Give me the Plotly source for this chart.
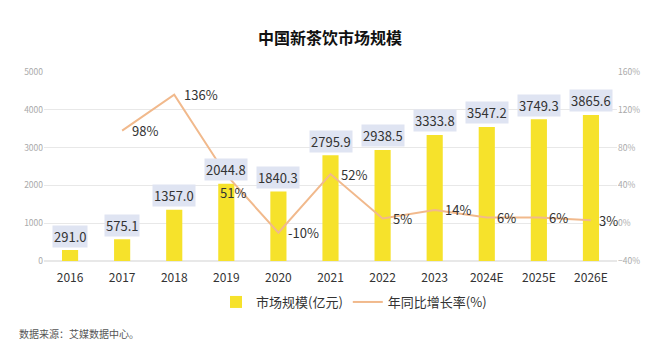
import plotly.graph_objects as go

categories = ["2016", "2017", "2018", "2019", "2020", "2021", "2022", "2023", "2024E", "2025E", "2026E"]
market_size = [291.0, 575.1, 1357.0, 2044.8, 1840.3, 2795.9, 2938.5, 3333.8, 3547.2, 3749.3, 3865.6]
growth_categories = categories[1:]
growth_rate = [98, 136, 51, -10, 52, 5, 14, 6, 6, 3]
growth_labels = ["98%", "136%", "51%", "-10%", "52%", "5%", "14%", "6%", "6%", "3%"]

FONT = "Noto Sans CJK SC"
BAR_COLOR = "#f6e22b"
LINE_COLOR = "#f1b98c"

fig = go.Figure()
fig.add_trace(go.Bar(
    x=categories, y=market_size, name="市场规模(亿元)",
    marker=dict(color=BAR_COLOR, line=dict(width=0)),
    width=0.31, yaxis="y",
))
fig.add_trace(go.Scatter(
    x=growth_categories, y=growth_rate, name="年同比增长率(%)",
    mode="lines", line=dict(color=LINE_COLOR, width=2),
    yaxis="y2", cliponaxis=False,
))

annotations = []
for i, v in enumerate(market_size):
    annotations.append(dict(
        x=i, y=v, xref="x", yref="y", text=f"{v:.1f}", showarrow=False,
        yshift=14, yanchor="middle", bgcolor="#dfe4f2", borderpad=1,
        font=dict(size=13, color="#333333", family=FONT),
    ))

n = len(growth_rate)
for j, (v, lab) in enumerate(zip(growth_rate, growth_labels)):
    below = lab == "51%"
    xs = -8 if below else (6 if j == n - 1 else 8)
    annotations.append(dict(
        x=j + 1, y=v, xref="x", yref="y2", text=lab, showarrow=False,
        xanchor="left", yanchor="middle",
        xshift=xs, yshift=-17 if below else 0,
        font=dict(size=13, color="#333333", family=FONT),
    ))

# page is rendered with an 8px body offset; compensate
OFF = 8
W, H = 660 - OFF, 362 - OFF
PL, PR, PT, PB = 44, 617, 72, 261  # plot area in page pixels
L = PL - OFF
T = PT - OFF
R = W - (PR - OFF)
B = H - (PB - OFF)
pw = PR - PL
ph = PB - PT

annotations.append(dict(
    x=(17 - PL) / pw, y=(PB - 333) / ph, xref="paper", yref="paper",
    text="数据来源：艾媒数据中心。", showarrow=False, xanchor="left", yanchor="middle",
    font=dict(size=10, color="#555555", family=FONT),
))

fig.update_layout(
    width=W, height=H,
    margin=dict(l=L, r=R, t=T, b=B, autoexpand=False),
    paper_bgcolor="white", plot_bgcolor="white",
    font=dict(family=FONT),
    title=dict(text="<b>中国新茶饮市场规模</b>", x=(330 - OFF) / W, xanchor="center",
               y=1 - (38 - OFF) / H, yanchor="middle", yref="container",
               font=dict(size=16, color="#111111", family=FONT)),
    xaxis=dict(type="category", range=[-0.5, 10.5], showgrid=False, showline=False,
               ticks="", ticklabelstandoff=8,
               tickfont=dict(size=12, color="#333333", family=FONT)),
    yaxis=dict(range=[0, 5000], dtick=1000, showgrid=True, gridcolor="#e8e8e8",
               gridwidth=1, zeroline=True, zerolinecolor="#e8e8e8", showline=False,
               tickfont=dict(size=8.5, color="#aaaaaa", family=FONT), ticks=""),
    yaxis2=dict(range=[-40, 160], dtick=40, overlaying="y", side="right", showgrid=False,
                zeroline=False, ticksuffix="%",
                tickfont=dict(size=8.5, color="#aaaaaa", family=FONT), ticks=""),
    legend=dict(orientation="h", x=(216 - PL) / pw, xanchor="left",
                y=(PB - 302) / ph, yanchor="middle",
                font=dict(size=13, color="#333333", family=FONT),
                itemwidth=30, bgcolor="rgba(0,0,0,0)"),
    annotations=annotations,
    showlegend=True,
)

fig.write_html("out.html")
